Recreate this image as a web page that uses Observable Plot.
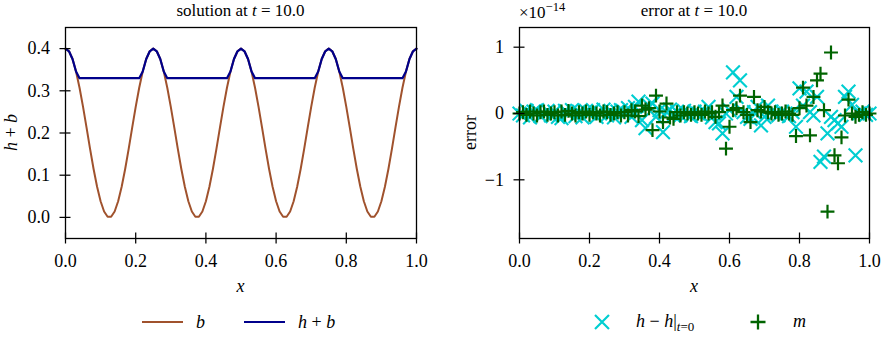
<!DOCTYPE html>
<html>
<head>
<meta charset="utf-8">
<script src="https://cdn.jsdelivr.net/npm/d3@7"></script>
<script src="https://cdn.jsdelivr.net/npm/@observablehq/plot@0.6"></script>
<style>
  body { margin: 0; background: white; }
  #c { position: relative; width: 882px; height: 340px; overflow: hidden; font-family: 'Liberation Serif', 'DejaVu Serif', serif; }
  #c > svg { position: absolute; top: 0; }
  #c svg text { font-family: 'Liberation Serif', 'DejaVu Serif', serif; }
</style>
</head>
<body>
<div id="c"></div>
<script>
// ---- data ----
const xGrid = [
  0.00,0.01,0.02,0.03,0.04,0.05,0.06,0.07,0.08,0.09,
  0.10,0.11,0.12,0.13,0.14,0.15,0.16,0.17,0.18,0.19,
  0.20,0.21,0.22,0.23,0.24,0.25,0.26,0.27,0.28,0.29,
  0.30,0.31,0.32,0.33,0.34,0.35,0.36,0.37,0.38,0.39,
  0.40,0.41,0.42,0.43,0.44,0.45,0.46,0.47,0.48,0.49,
  0.50,0.51,0.52,0.53,0.54,0.55,0.56,0.57,0.58,0.59,
  0.60,0.61,0.62,0.63,0.64,0.65,0.66,0.67,0.68,0.69,
  0.70,0.71,0.72,0.73,0.74,0.75,0.76,0.77,0.78,0.79,
  0.80,0.81,0.82,0.83,0.84,0.85,0.86,0.87,0.88,0.89,
  0.90,0.91,0.92,0.93,0.94,0.95,0.96,0.97,0.98,0.99,
  1.00
];
// bottom topography b
const bVals = [
  0.4000,0.3937,0.3753,0.3458,0.3072,0.2618,0.2126,0.1625,0.1148,0.0725,
  0.0382,0.0140,0.0016,0.0016,0.0140,0.0382,0.0725,0.1148,0.1625,0.2126,
  0.2618,0.3072,0.3458,0.3753,0.3937,0.4000,0.3937,0.3753,0.3458,0.3072,
  0.2618,0.2126,0.1625,0.1148,0.0725,0.0382,0.0140,0.0016,0.0016,0.0140,
  0.0382,0.0725,0.1148,0.1625,0.2126,0.2618,0.3072,0.3458,0.3753,0.3937,
  0.4000,0.3937,0.3753,0.3458,0.3072,0.2618,0.2126,0.1625,0.1148,0.0725,
  0.0382,0.0140,0.0016,0.0016,0.0140,0.0382,0.0725,0.1148,0.1625,0.2126,
  0.2618,0.3072,0.3458,0.3753,0.3937,0.4000,0.3937,0.3753,0.3458,0.3072,
  0.2618,0.2126,0.1625,0.1148,0.0725,0.0382,0.0140,0.0016,0.0016,0.0140,
  0.0382,0.0725,0.1148,0.1625,0.2126,0.2618,0.3072,0.3458,0.3753,0.3937,
  0.4000
];
// free surface h + b
const surfVals = [
  0.4000,0.3937,0.3753,0.3458,0.33,0.33,0.33,0.33,0.33,0.33,
  0.33,0.33,0.33,0.33,0.33,0.33,0.33,0.33,0.33,0.33,
  0.33,0.33,0.3458,0.3753,0.3937,0.4000,0.3937,0.3753,0.3458,0.33,
  0.33,0.33,0.33,0.33,0.33,0.33,0.33,0.33,0.33,0.33,
  0.33,0.33,0.33,0.33,0.33,0.33,0.33,0.3458,0.3753,0.3937,
  0.4000,0.3937,0.3753,0.3458,0.33,0.33,0.33,0.33,0.33,0.33,
  0.33,0.33,0.33,0.33,0.33,0.33,0.33,0.33,0.33,0.33,
  0.33,0.33,0.3458,0.3753,0.3937,0.4000,0.3937,0.3753,0.3458,0.33,
  0.33,0.33,0.33,0.33,0.33,0.33,0.33,0.33,0.33,0.33,
  0.33,0.33,0.33,0.33,0.33,0.33,0.33,0.3458,0.3753,0.3937,
  0.4000
];
// errors (units of 1e-14)
const errH = [
  0.00,-0.03,0.04,-0.06,0.03,0.05,-0.04,0.00,0.04,-0.03,
  0.03,-0.05,-0.07,0.04,0.00,0.05,-0.04,0.03,-0.06,0.04,
  0.01,0.05,-0.05,0.00,0.06,-0.03,0.04,-0.06,0.03,0.05,
  0.02,0.08,-0.05,0.10,0.18,-0.10,-0.22,0.12,0.15,-0.05,
  0.05,-0.28,0.02,0.06,-0.03,0.03,-0.03,0.04,0.00,-0.04,
  0.03,0.00,-0.03,0.03,0.10,-0.06,-0.13,-0.15,-0.30,0.00,
  0.05,0.62,0.25,0.50,0.02,-0.05,-0.08,0.02,0.10,-0.18,
  -0.05,0.12,0.03,0.00,-0.03,0.03,0.00,-0.04,0.02,-0.20,
  0.38,0.12,0.33,0.02,-0.03,0.25,-0.73,-0.65,-0.30,-0.05,
  -0.10,-0.15,-0.20,0.25,0.33,0.13,-0.63,0.00,0.03,-0.02,
  0.00
];
const errM = [
  0.00,0.02,-0.02,0.03,0.00,-0.03,0.02,0.03,-0.02,0.00,
  0.02,-0.03,0.03,-0.02,0.04,0.00,-0.03,0.02,0.00,0.03,
  -0.02,0.02,0.00,-0.03,0.03,0.02,-0.02,0.00,0.02,-0.03,
  0.02,-0.03,0.05,0.03,-0.04,0.12,0.06,0.08,-0.25,0.27,
  0.03,-0.13,0.15,-0.06,-0.08,0.02,-0.03,0.02,0.00,-0.02,
  0.02,0.00,-0.02,0.03,0.00,0.02,-0.05,0.02,0.12,-0.53,
  -0.20,0.05,0.08,0.27,0.02,-0.02,-0.13,0.25,0.05,0.03,
  0.10,0.02,0.00,0.02,-0.02,0.00,0.03,0.00,-0.02,-0.34,
  0.08,0.39,0.12,-0.33,0.25,0.50,0.60,0.05,-1.48,0.92,
  -0.63,-0.75,-0.36,-0.03,0.21,0.00,-0.05,-0.02,0.02,-0.02,
  0.00
];
const xTicks = [0, 0.2, 0.4, 0.6, 0.8, 1.0];
const leftYTicks = [0, 0.1, 0.2, 0.3, 0.4];
const rightYTicks = [-1, 0, 1];

const C_B = "#a0522d", C_S = "#00008b", C_H = "#00ced1", C_M = "#006400";
const FONT = "'Liberation Serif', 'DejaVu Serif', serif";

const solData = xGrid.map((x, i) => ({x, b: bVals[i], s: surfVals[i]}));
const errData = xGrid.map((x, i) => ({x, h: errH[i], m: errM[i]}));

const baseStyle = `font-family: ${FONT}; font-size: 18px; color: black; background: transparent; overflow: visible;`;
const axOpts = {tickSize: 11, tickPadding: 10, label: null, strokeWidth: 1.25, fontSize: 18, fontFamily: FONT};

const left = Plot.plot({
  width: 441, height: 340,
  marginLeft: 65, marginRight: 25, marginTop: 27, marginBottom: 102,
  x: {domain: [0, 1], label: null},
  y: {domain: [-0.05, 0.45], label: null},
  style: baseStyle,
  marks: [
    Plot.line(solData, {x: "x", y: "b", stroke: C_B, strokeWidth: 2}),
    Plot.line(solData, {x: "x", y: "s", stroke: C_S, strokeWidth: 2.2}),
    Plot.frame({stroke: "black", strokeWidth: 1.3}),
    Plot.axisX({...axOpts, ticks: xTicks, tickFormat: ".1f", dy: -5.5}),
    Plot.axisY({...axOpts, ticks: leftYTicks, tickFormat: ".1f", dx: 5.5})
  ]
});
left.style.left = "0px";

const right = Plot.plot({
  width: 441, height: 340,
  marginLeft: 78, marginRight: 13, marginTop: 27, marginBottom: 102,
  x: {domain: [0, 1], label: null},
  y: {domain: [-1.885, 1.297], label: null},
  style: baseStyle,
  marks: [
    Plot.dot(errData, {x: "x", y: "h", symbol: "times", r: 6.3, stroke: C_H, strokeWidth: 2.1}),
    Plot.dot(errData, {x: "x", y: "m", symbol: "plus", r: 4.55, stroke: C_M, strokeWidth: 2.2}),
    Plot.frame({stroke: "black", strokeWidth: 1.3}),
    Plot.axisX({...axOpts, ticks: xTicks, tickFormat: ".1f", dy: -5.5}),
    Plot.axisY({...axOpts, ticks: rightYTicks, tickFormat: "d", dx: 5.5})
  ]
});
right.style.left = "441px";

const c = document.getElementById("c");
c.appendChild(left);
c.appendChild(right);

// overlay: titles, axis labels, legends
const NS = "http://www.w3.org/2000/svg";
const ov = document.createElementNS(NS, "svg");
ov.setAttribute("width", 882); ov.setAttribute("height", 340);
ov.style.left = "0px";
ov.setAttribute("font-size", 18);
ov.innerHTML = `
  <text x="240.5" y="15.5" font-size="17" text-anchor="middle">solution at <tspan font-style="italic">t</tspan> = 10.0</text>
  <text x="694" y="15.5" font-size="17" text-anchor="middle">error at <tspan font-style="italic">t</tspan> = 10.0</text>
  <text x="519" y="17.5" font-size="17">×10<tspan font-size="12.5" dy="-7">−14</tspan></text>
  <text transform="translate(16.5,132.5) rotate(-90)" text-anchor="middle"><tspan font-style="italic">h</tspan> + <tspan font-style="italic">b</tspan></text>
  <text transform="translate(476,132.5) rotate(-90)" text-anchor="middle">error</text>
  <text x="240.5" y="292" text-anchor="middle" font-style="italic">x</text>
  <text x="694" y="292" text-anchor="middle" font-style="italic">x</text>
  <line x1="142" x2="183" y1="322" y2="322" stroke="${C_B}" stroke-width="2"/>
  <text x="196" y="328" font-style="italic">b</text>
  <line x1="244" x2="285" y1="322" y2="322" stroke="${C_S}" stroke-width="2.2"/>
  <text x="298" y="328"><tspan font-style="italic">h</tspan> + <tspan font-style="italic">b</tspan></text>
  <path transform="translate(602,322)" d="M-7,-7L7,7M-7,7L7,-7" stroke="${C_H}" stroke-width="2.2" fill="none"/>
  <text x="636" y="327"><tspan font-style="italic">h</tspan> − <tspan font-style="italic">h</tspan>|<tspan font-size="13" dy="4"><tspan font-style="italic">t</tspan>=0</tspan></text>
  <path transform="translate(758,322)" d="M-7.5,0L7.5,0M0,-7.5L0,7.5" stroke="${C_M}" stroke-width="2.3" fill="none"/>
  <text x="793" y="327" font-style="italic">m</text>
`;
c.appendChild(ov);
</script>
</body>
</html>
